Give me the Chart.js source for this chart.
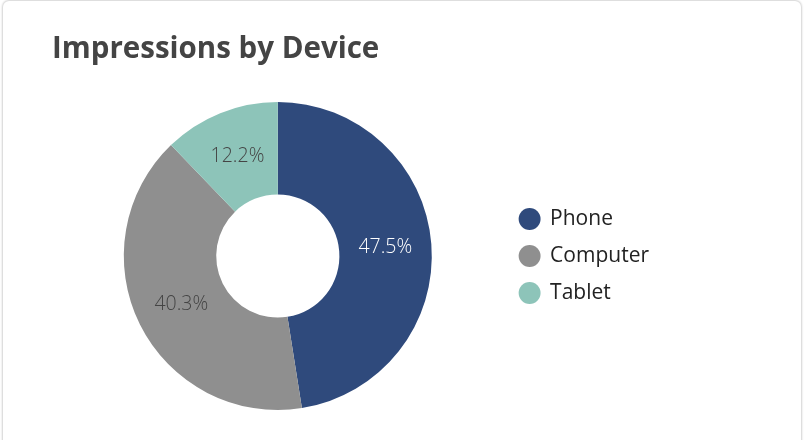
<!DOCTYPE html>
<html>
<head>
<meta charset="utf-8">
<script src="https://cdn.jsdelivr.net/npm/chart.js@4"></script>
<style>
  html, body { margin: 0; padding: 0; background: #ffffff; }
  .card {
    position: absolute; left: 3px; top: 1px; width: 798px; height: 470px;
    background: #fff; border-radius: 6px;
    box-shadow: 0 0 2px 1px rgba(0,0,0,0.18);
  }
  .wrap { position: absolute; left: 0; top: 0; width: 805px; height: 440px; }
</style>
</head>
<body>
<div class="card"></div>
<div class="wrap"><canvas id="deviceChart"></canvas></div>
<script>
// Impresiones por dispositivo (porcentaje)
const devices = ['Phone', 'Computer', 'Tablet'];
const shares = [47.5, 40.3, 12.2];
const sliceColors = ['#2f4a7c', '#8f8f8f', '#8dc4b9'];
const labelColors = ['#ffffff', '#444444', '#444444'];

// Escribe el porcentaje en el centro de cada porción
const sliceLabels = {
    id: 'sliceLabels',
    afterDatasetsDraw(chart) {
        const ctx = chart.ctx;
        const meta = chart.getDatasetMeta(0);
        ctx.save();
        ctx.font = '300 19.5px "Open Sans", sans-serif';
        ctx.textAlign = 'center';
        ctx.textBaseline = 'middle';
        meta.data.forEach((arc, i) => {
            const pos = arc.tooltipPosition();
            ctx.fillStyle = labelColors[i];
            ctx.fillText(shares[i].toFixed(1) + '%', pos.x, pos.y);
        });
        ctx.restore();
    }
};

const ctx = document.getElementById('deviceChart').getContext('2d');

new Chart(ctx, {
    type: 'doughnut',
    data: {
        labels: devices,
        datasets: [{
            data: shares,
            backgroundColor: sliceColors,
            borderWidth: 0,
            hoverOffset: 0
        }]
    },
    options: {
        responsive: true,
        maintainAspectRatio: false,
        animation: false,
        cutout: '40%',
        layout: {
            padding: { left: 52, right: 146, top: 0, bottom: 30 }
        },
        plugins: {
            title: {
                display: true,
                text: 'Impressions by Device',
                align: 'start',
                color: '#444444',
                font: { family: '"Open Sans", sans-serif', size: 29.5, weight: 'bold' },
                padding: { top: 32, bottom: 34.6 }
            },
            legend: {
                position: 'right',
                align: 'center',
                fullSize: false,
                labels: {
                    usePointStyle: true,
                    pointStyle: 'circle',
                    boxWidth: 20,
                    boxHeight: 15.5,
                    padding: 16,
                    color: '#222222',
                    font: { family: '"Open Sans", sans-serif', size: 21 }
                }
            },
            tooltip: { enabled: false }
        }
    },
    plugins: [sliceLabels]
});
</script>
</body>
</html>
